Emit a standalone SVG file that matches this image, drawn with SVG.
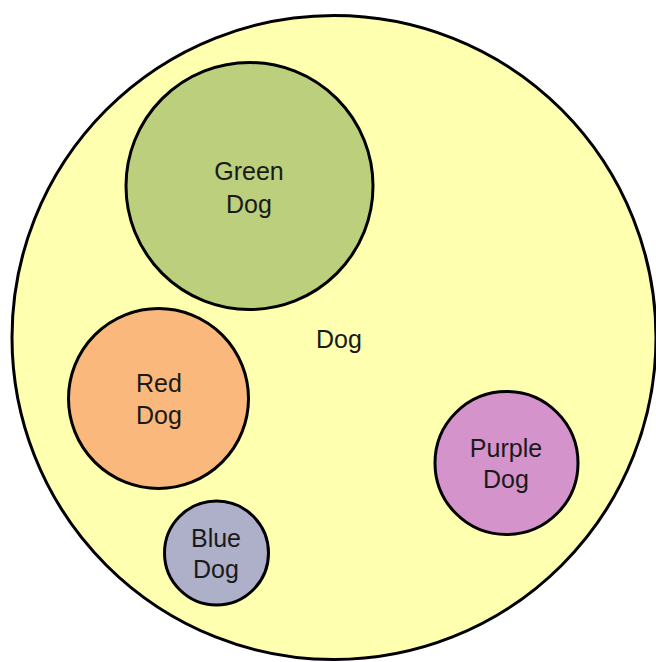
<svg xmlns="http://www.w3.org/2000/svg" width="656" height="662" viewBox="0 0 656 662">
  <style>
    .set { stroke: #000; stroke-width: 3; }
    .label { font-family: "Liberation Sans", Arial, sans-serif; font-size: 25px; fill: #1a1a1a; text-anchor: middle; }
  </style>
  <rect width="656" height="662" fill="#ffffff"/>

  <!-- outer set -->
  <g id="dog">
    <circle class="set" cx="334" cy="337.5" r="322" fill="#ffffb0"/>
    <text class="label" x="339" y="348">Dog</text>
  </g>

  <g id="green-dog">
    <circle class="set" cx="249.5" cy="186" r="123.5" fill="#bbcf7c"/>
    <text class="label" x="249" y="180">Green</text>
    <text class="label" x="249" y="213">Dog</text>
  </g>

  <g id="red-dog">
    <circle class="set" cx="158.5" cy="398.5" r="90" fill="#fab87c"/>
    <text class="label" x="159" y="392">Red</text>
    <text class="label" x="159" y="424">Dog</text>
  </g>

  <g id="blue-dog">
    <circle class="set" cx="216.5" cy="553" r="52" fill="#aeafc8"/>
    <text class="label" x="216" y="547">Blue</text>
    <text class="label" x="216" y="578">Dog</text>
  </g>

  <g id="purple-dog">
    <circle class="set" cx="506.5" cy="463" r="71.5" fill="#d593cb"/>
    <text class="label" x="506" y="457">Purple</text>
    <text class="label" x="506" y="488">Dog</text>
  </g>

  <g id="connectors"/>
</svg>
